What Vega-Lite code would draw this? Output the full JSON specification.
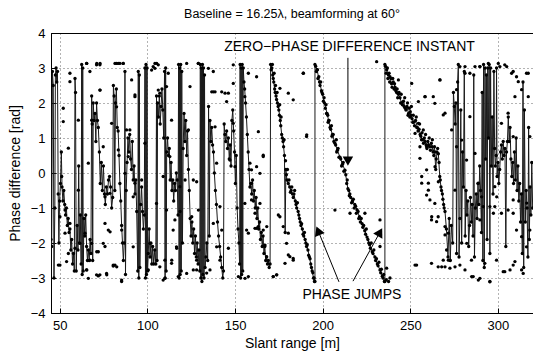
{
"$schema": "https://vega.github.io/schema/vega-lite/v6.json",
"width": 482, "height": 280,
"autosize": {"type": "none"},
"padding": {"left": 51, "top": 33, "right": 0, "bottom": 41},
"background": "white",
"title": {"text": "Baseline = 16.25λ, beamforming at 60°", "fontSize": 12.5, "fontWeight": "normal", "color": "#000", "offset": 7},
"config": {"font": "Liberation Sans", "view": {"stroke": "#000", "strokeWidth": 1},
 "axis": {"labelFontSize": 13, "titleFontSize": 14, "titleFontWeight": "normal", "labelColor": "#000", "titleColor": "#000", "domainColor": "#000", "tickColor": "#000", "grid": true, "gridDash": [1, 3], "gridColor": "#000", "gridOpacity": 0.6, "tickSize": -5, "labelPadding": 11, "labelOverlap": false}},
"datasets": {
"line": [
{"x":45.0,"y":-1.9},{"x":45.4,"y":-2.1},{"x":45.8,"y":2.9},{"x":46.3,"y":2.5},{"x":46.7,"y":-3.0},{"x":47.2,"y":-1.0},{"x":47.5,"y":2.8},{"x":47.9,"y":3.0},{"x":48.3,"y":2.6},{"x":48.7,"y":2.9},{"x":49.1,"y":-0.6},{"x":49.5,"y":-2.0},{"x":49.9,"y":-0.8},{"x":50.4,"y":-0.3},{"x":50.9,"y":0.6},{"x":51.3,"y":-0.4},{"x":51.8,"y":-0.8},{"x":52.3,"y":-0.5},{"x":52.8,"y":-0.9},{"x":53.3,"y":-1.2},{"x":53.8,"y":-1.0},{"x":54.3,"y":-1.5},{"x":54.8,"y":-1.3},{"x":55.3,"y":-1.7},{"x":55.8,"y":-1.6},{"x":56.3,"y":-2.2},{"x":56.8,"y":-1.9},{"x":57.3,"y":-2.6},{"x":57.8,"y":-2.3},{"x":58.3,"y":-2.8},{"x":58.7,"y":2.7},{"x":59.0,"y":2.3},{"x":59.4,"y":-2.8},{"x":59.9,"y":-1.5},{"x":60.4,"y":-2.2},{"x":60.8,"y":0.2},{"x":61.2,"y":-2.0},{"x":61.7,"y":-1.2},{"x":62.2,"y":-2.6},{"x":62.5,"y":3.1},{"x":62.8,"y":-2.9},{"x":63.1,"y":3.0},{"x":63.4,"y":-2.8},{"x":63.8,"y":-1.3},{"x":64.3,"y":-1.8},{"x":64.8,"y":-1.2},{"x":65.3,"y":-2.1},{"x":65.8,"y":-2.5},{"x":66.3,"y":-2.2},{"x":66.8,"y":-2.5},{"x":67.3,"y":-1.9},{"x":67.8,"y":-2.3},{"x":68.2,"y":2.2},{"x":68.5,"y":1.4},{"x":68.8,"y":-2.5},{"x":69.1,"y":2.0},{"x":69.6,"y":1.5},{"x":70.1,"y":1.7},{"x":70.6,"y":0.9},{"x":71.0,"y":2.0},{"x":71.5,"y":1.5},{"x":72.0,"y":1.3},{"x":72.6,"y":0.6},{"x":73.1,"y":-0.3},{"x":73.7,"y":0.3},{"x":74.3,"y":-0.5},{"x":74.9,"y":0.2},{"x":75.5,"y":-0.6},{"x":76.0,"y":-0.9},{"x":76.6,"y":-0.4},{"x":77.2,"y":-0.6},{"x":77.8,"y":-0.2},{"x":78.4,"y":-0.1},{"x":79.0,"y":-0.4},{"x":79.6,"y":-1.0},{"x":80.2,"y":-0.7},{"x":80.6,"y":2.5},{"x":81.0,"y":2.2},{"x":81.4,"y":-0.5},{"x":81.8,"y":2.0},{"x":82.3,"y":2.4},{"x":82.8,"y":1.3},{"x":83.3,"y":1.2},{"x":83.8,"y":0.5},{"x":84.3,"y":-0.3},{"x":84.8,"y":-0.8},{"x":85.3,"y":-1.5},{"x":85.8,"y":-2.0},{"x":86.3,"y":-2.5},{"x":86.8,"y":-2.0},{"x":87.2,"y":2.9},{"x":87.5,"y":-2.9},{"x":87.9,"y":-0.5},{"x":88.4,"y":0.3},{"x":88.9,"y":1.0},{"x":89.4,"y":0.6},{"x":89.9,"y":1.1},{"x":90.4,"y":0.4},{"x":90.9,"y":0.1},{"x":91.4,"y":0.9},{"x":91.9,"y":-0.2},{"x":92.4,"y":0.2},{"x":92.9,"y":-0.6},{"x":93.4,"y":-0.2},{"x":93.9,"y":-1.1},{"x":94.5,"y":-2.8},{"x":94.8,"y":2.9},{"x":95.1,"y":-3.0},{"x":95.4,"y":2.8},{"x":95.7,"y":-2.7},{"x":96.2,"y":-0.9},{"x":96.7,"y":-0.4},{"x":97.2,"y":-1.1},{"x":97.7,"y":-1.6},{"x":98.2,"y":-1.2},{"x":98.6,"y":3.0},{"x":98.9,"y":-3.0},{"x":99.2,"y":3.1},{"x":99.5,"y":-2.9},{"x":99.8,"y":3.0},{"x":100.1,"y":-2.8},{"x":100.5,"y":-2.3},{"x":101.0,"y":-1.6},{"x":101.5,"y":-2.4},{"x":102.0,"y":-2.0},{"x":102.5,"y":-2.6},{"x":103.0,"y":-2.1},{"x":103.6,"y":-2.6},{"x":104.2,"y":-2.2},{"x":104.8,"y":-2.6},{"x":105.2,"y":2.2},{"x":105.5,"y":-2.5},{"x":105.8,"y":2.0},{"x":106.3,"y":1.6},{"x":106.8,"y":2.2},{"x":107.3,"y":1.4},{"x":107.8,"y":1.9},{"x":108.3,"y":2.4},{"x":108.8,"y":1.8},{"x":109.3,"y":1.0},{"x":109.8,"y":2.9},{"x":110.1,"y":-3.0},{"x":110.4,"y":3.0},{"x":110.7,"y":-2.8},{"x":111.0,"y":0.6},{"x":111.5,"y":1.0},{"x":112.0,"y":0.5},{"x":112.5,"y":0.7},{"x":113.0,"y":-0.2},{"x":113.5,"y":0.3},{"x":114.0,"y":-0.5},{"x":114.5,"y":-0.2},{"x":115.0,"y":-0.8},{"x":115.5,"y":-0.3},{"x":116.0,"y":-0.5},{"x":116.5,"y":0.0},{"x":117.0,"y":-0.2},{"x":117.5,"y":-1.2},{"x":117.8,"y":3.1},{"x":118.1,"y":-3.0},{"x":118.4,"y":3.0},{"x":118.7,"y":-2.9},{"x":119.0,"y":3.1},{"x":119.3,"y":-2.8},{"x":119.6,"y":2.9},{"x":120.0,"y":-2.0},{"x":120.4,"y":0.7},{"x":120.9,"y":1.7},{"x":121.4,"y":0.9},{"x":121.9,"y":1.5},{"x":122.4,"y":0.5},{"x":122.9,"y":1.2},{"x":123.4,"y":0.1},{"x":123.9,"y":-0.5},{"x":124.4,"y":-1.3},{"x":124.9,"y":-1.8},{"x":125.4,"y":-1.4},{"x":125.9,"y":-2.0},{"x":126.4,"y":-1.6},{"x":126.9,"y":-2.3},{"x":127.4,"y":-1.8},{"x":127.9,"y":-2.4},{"x":128.4,"y":-2.0},{"x":128.9,"y":-2.6},{"x":129.4,"y":-2.2},{"x":129.9,"y":-2.8},{"x":130.2,"y":3.1},{"x":130.5,"y":-3.0},{"x":130.8,"y":3.0},{"x":131.1,"y":-3.1},{"x":131.4,"y":3.1},{"x":131.7,"y":-2.9},{"x":132.0,"y":3.0},{"x":132.3,"y":-3.0},{"x":132.6,"y":2.8},{"x":132.9,"y":-2.7},{"x":133.4,"y":-2.4},{"x":133.9,"y":-2.0},{"x":134.4,"y":-2.5},{"x":134.9,"y":1.9},{"x":135.3,"y":-1.8},{"x":135.7,"y":1.5},{"x":136.2,"y":0.9},{"x":136.7,"y":1.3},{"x":137.2,"y":0.8},{"x":137.7,"y":0.6},{"x":138.2,"y":0.0},{"x":138.8,"y":-0.5},{"x":139.4,"y":-0.9},{"x":140.0,"y":-1.4},{"x":140.6,"y":-1.8},{"x":141.2,"y":-2.1},{"x":141.8,"y":-2.4},{"x":142.4,"y":-2.7},{"x":143.0,"y":-3.0},{"x":143.4,"y":-2.8},{"x":143.8,"y":1.4},{"x":144.2,"y":1.1},{"x":144.7,"y":0.9},{"x":145.2,"y":1.2},{"x":145.7,"y":0.7},{"x":146.2,"y":1.0},{"x":146.7,"y":0.4},{"x":147.2,"y":0.8},{"x":147.7,"y":0.2},{"x":148.2,"y":1.5},{"x":148.7,"y":1.8},{"x":149.2,"y":1.2},{"x":149.7,"y":0.6},{"x":150.2,"y":-0.3},{"x":150.7,"y":0.5},{"x":151.2,"y":-1.0},{"x":151.7,"y":-1.6},{"x":152.2,"y":-2.0},{"x":152.6,"y":-2.6},{"x":152.9,"y":3.1},{"x":153.2,"y":-3.0},{"x":153.5,"y":3.0},{"x":153.8,"y":-2.9},{"x":154.1,"y":3.1},{"x":154.4,"y":-2.8},{"x":154.7,"y":3.0},{"x":155.1,"y":2.6},{"x":155.5,"y":2.4},{"x":156.0,"y":2.0},{"x":156.5,"y":1.6},{"x":157.0,"y":1.1},{"x":157.5,"y":0.6},{"x":158.0,"y":0.1},{"x":158.5,"y":-0.4},{"x":159.0,"y":-0.3},{"x":159.5,"y":-0.6},{"x":160.0,"y":-0.2},{"x":160.5,"y":-0.8},{"x":161.0,"y":-0.5},{"x":161.5,"y":-1.0},{"x":162.0,"y":-0.7},{"x":162.5,"y":-1.3},{"x":163.0,"y":-1.0},{"x":163.5,"y":-1.6},{"x":164.0,"y":-1.4},{"x":164.5,"y":-1.9},{"x":165.0,"y":-1.7},{"x":165.5,"y":-2.1},{"x":166.0,"y":-1.8},{"x":166.5,"y":-2.3},{"x":167.0,"y":-2.1},{"x":167.5,"y":-2.5},{"x":168.0,"y":-2.4},{"x":168.5,"y":-2.6},{"x":169.0,"y":-2.5},{"x":169.5,"y":-2.7},{"x":170.0,"y":-2.6},
{"x":170.3,"y":3.1},{"x":171.0,"y":3.0},{"x":171.8,"y":2.7},{"x":172.6,"y":2.4},{"x":173.4,"y":2.2},{"x":174.2,"y":2.0},{"x":175.0,"y":1.8},{"x":175.8,"y":1.5},{"x":176.6,"y":1.1},{"x":177.4,"y":0.9},{"x":178.2,"y":0.5},{"x":178.6,"y":-1.7},{"x":179.0,"y":0.1},{"x":179.6,"y":-0.2},{"x":180.4,"y":-0.3},{"x":181.2,"y":-0.4},{"x":182.0,"y":-0.5},{"x":182.8,"y":-0.6},{"x":183.6,"y":-0.6},{"x":184.4,"y":-0.8},{"x":185.2,"y":-1.0},{"x":186.0,"y":-1.1},{"x":186.8,"y":-1.3},{"x":187.6,"y":-1.5},{"x":188.4,"y":-1.6},{"x":189.2,"y":-1.8},{"x":190.0,"y":-1.9},{"x":190.8,"y":-2.1},{"x":191.6,"y":-2.2},{"x":192.4,"y":-2.4},{"x":193.2,"y":-2.6},{"x":194.0,"y":-2.8},{"x":194.8,"y":-3.0},{"x":195.6,"y":-3.1},
{"x":195.6,"y":3.1},{"x":196.8,"y":2.95},{"x":198.2,"y":2.6},{"x":199.6,"y":2.3},{"x":201.0,"y":2.0},{"x":202.5,"y":1.7},{"x":203.4,"y":1.5},{"x":204.2,"y":1.3},{"x":205.6,"y":1.1},{"x":207.0,"y":0.85},{"x":208.4,"y":0.65},{"x":209.9,"y":0.45},{"x":211.3,"y":0.25},{"x":212.7,"y":0.08},{"x":214.4,"y":-0.45},{"x":215.5,"y":-0.6},{"x":217.0,"y":-0.8},{"x":218.3,"y":-0.9},{"x":219.6,"y":-1.05},{"x":221.0,"y":-1.25},{"x":222.5,"y":-1.45},{"x":224.0,"y":-1.65},{"x":225.3,"y":-1.83},{"x":226.8,"y":-2.05},{"x":228.3,"y":-2.25},{"x":229.8,"y":-2.4},{"x":231.2,"y":-2.6},{"x":232.7,"y":-2.77},{"x":234.0,"y":-2.95},{"x":235.5,"y":-3.1},
{"x":235.5,"y":3.1},{"x":236.5,"y":2.95},{"x":237.5,"y":2.8},{"x":238.4,"y":2.75},{"x":239.3,"y":2.55},{"x":240.3,"y":2.6},{"x":241.3,"y":2.45},{"x":242.2,"y":2.3},{"x":243.2,"y":2.25},{"x":244.1,"y":2.15},{"x":245.1,"y":2.0},{"x":246.1,"y":2.05},{"x":247.1,"y":1.85},{"x":248.1,"y":1.9},{"x":249.0,"y":1.7},{"x":250.0,"y":1.75},{"x":251.0,"y":1.55},{"x":252.0,"y":1.45},{"x":253.0,"y":1.5},{"x":254.0,"y":1.3},{"x":255.0,"y":1.25},{"x":256.0,"y":1.05},{"x":257.0,"y":0.95},{"x":258.0,"y":1.0},{"x":259.0,"y":0.8},{"x":260.0,"y":0.9},{"x":261.0,"y":0.75},{"x":262.0,"y":0.85},{"x":263.0,"y":0.6},{"x":263.8,"y":0.75},{"x":264.5,"y":0.1},{"x":265.2,"y":0.6},{"x":266.0,"y":0.55},{"x":266.8,"y":-0.1},{"x":267.5,"y":-0.4},{"x":268.3,"y":-0.6},{"x":269.0,"y":-0.9},{"x":269.8,"y":-1.1},{"x":270.6,"y":-1.6},{"x":271.5,"y":-2.4},{"x":272.2,"y":-1.3},{"x":272.8,"y":-2.5},{"x":273.4,"y":-1.5},
{"x":274.2,"y":-2.0},{"x":274.6,"y":2.3},{"x":275.1,"y":1.9},{"x":275.6,"y":1.4},{"x":276.0,"y":2.0},{"x":276.4,"y":-2.3},{"x":277.0,"y":2.6},{"x":277.4,"y":3.1},{"x":277.8,"y":-2.4},{"x":278.3,"y":-1.3},{"x":278.8,"y":1.8},{"x":279.3,"y":-2.0},{"x":279.8,"y":0.6},{"x":280.3,"y":-0.4},{"x":280.8,"y":2.9},{"x":281.3,"y":-1.8},{"x":281.8,"y":-0.5},{"x":282.3,"y":-1.2},{"x":282.8,"y":-0.8},{"x":283.3,"y":-2.1},{"x":283.8,"y":-1.5},{"x":284.3,"y":-0.7},{"x":284.8,"y":-1.4},{"x":285.3,"y":-0.9},{"x":285.8,"y":-1.8},{"x":286.2,"y":2.8},{"x":286.6,"y":-2.4},{"x":287.1,"y":-1.0},{"x":287.6,"y":-0.6},{"x":288.1,"y":-1.3},{"x":288.6,"y":-0.3},{"x":289.1,"y":-0.9},{"x":289.6,"y":0.2},{"x":290.1,"y":-0.5},{"x":290.6,"y":-1.7},{"x":291.0,"y":2.3},{"x":291.4,"y":-2.5},{"x":291.8,"y":3.1},{"x":292.2,"y":-2.7},{"x":292.6,"y":3.0},{"x":293.0,"y":0.4},{"x":293.4,"y":2.8},{"x":293.8,"y":-1.9},{"x":294.2,"y":3.0},{"x":294.6,"y":1.0},{"x":295.0,"y":3.1},{"x":295.4,"y":-2.3},{"x":295.8,"y":3.0},{"x":296.2,"y":0.2},{"x":296.7,"y":1.6},{"x":297.2,"y":-0.6},{"x":297.7,"y":2.9},{"x":298.1,"y":0.7},{"x":298.5,"y":0.2},{"x":299.0,"y":0.5},{"x":299.2,"y":3.0},{"x":299.5,"y":-0.1},{"x":300.0,"y":0.3},{"x":300.5,"y":-0.3},{"x":301.0,"y":0.1},{"x":301.5,"y":0.6},{"x":302.0,"y":0.8},{"x":302.5,"y":0.4},{"x":303.0,"y":0.9},{"x":303.5,"y":0.5},{"x":304.0,"y":0.7},{"x":304.5,"y":-2.1},{"x":304.9,"y":0.6},{"x":305.4,"y":0.9},{"x":305.9,"y":1.6},{"x":306.4,"y":0.9},{"x":306.9,"y":1.3},{"x":307.4,"y":0.4},{"x":307.9,"y":-0.1},{"x":308.4,"y":0.3},{"x":308.9,"y":-0.3},{"x":309.4,"y":0.6},{"x":309.9,"y":-0.2},{"x":310.4,"y":1.0},{"x":310.9,"y":-0.5},{"x":311.4,"y":0.2},{"x":311.9,"y":-0.8},{"x":312.4,"y":-0.3},{"x":312.9,"y":-1.4},{"x":313.4,"y":-0.6},{"x":313.9,"y":-2.3},{"x":314.3,"y":2.6},{"x":314.7,"y":-2.7},{"x":315.1,"y":1.8},{"x":315.6,"y":-1.4},{"x":316.1,"y":-0.5},{"x":316.6,"y":-1.0},{"x":317.1,"y":-2.4},{"x":317.5,"y":1.3},{"x":317.9,"y":-1.9},{"x":318.3,"y":-0.4},{"x":318.8,"y":-1.2},{"x":319.3,"y":0.3},{"x":319.8,"y":-1.0}
],
"scatter": [
{"x":52.0,"y":1.85},{"x":52.0,"y":1.47},{"x":55.8,"y":2.85},{"x":49.2,"y":-2.63},{"x":53.9,"y":-2.53},{"x":65.3,"y":3.13},{"x":67.2,"y":2.9},{"x":71.0,"y":3.09},{"x":72.9,"y":3.09},{"x":72.9,"y":2.37},{"x":68.2,"y":1.51},{"x":74.8,"y":0.75},{"x":75.8,"y":-1.44},{"x":77.7,"y":-1.63},{"x":74.8,"y":-2.01},{"x":72.0,"y":-2.25},{"x":67.2,"y":-2.49},{"x":65.3,"y":-2.77},{"x":71.0,"y":-2.91},{"x":72.9,"y":-2.91},{"x":76.7,"y":-2.87},{"x":80.5,"y":-2.63},{"x":81.5,"y":-2.63},{"x":82.4,"y":3.13},{"x":84.3,"y":3.13},{"x":86.2,"y":3.13},{"x":85.3,"y":-3.06},{"x":91.0,"y":2.66},{"x":92.9,"y":2.18},{"x":88.1,"y":1.23},{"x":90.0,"y":1.23},{"x":91.9,"y":-0.68},{"x":91.9,"y":-2.11},{"x":96.7,"y":-0.2},{"x":100.5,"y":-2.77},{"x":102.4,"y":2.94},{"x":103.3,"y":3.04},{"x":104.3,"y":3.13},{"x":107.1,"y":2.28},{"x":107.1,"y":-2.68},{"x":109.0,"y":-3.06},{"x":110.0,"y":-2.49},{"x":113.8,"y":-2.58},{"x":113.8,"y":1.51},{"x":115.7,"y":-1.34},{"x":114.7,"y":-1.63},{"x":116.6,"y":-2.11},{"x":117.6,"y":-2.96},{"x":110.9,"y":2.47},{"x":106.2,"y":3.09},{"x":111.9,"y":2.85},{"x":50.1,"y":-1.25},{"x":51.1,"y":-0.1},{"x":53.0,"y":-1.06},{"x":54.9,"y":-2.3},{"x":55.8,"y":-1.44},{"x":60.6,"y":1.51},{"x":60.6,"y":-0.49},{"x":61.5,"y":-2.01},{"x":64.4,"y":-1.72},{"x":66.3,"y":0.28},{"x":68.2,"y":-2.01},{"x":75.8,"y":-0.68},{"x":78.6,"y":-0.58},{"x":79.6,"y":1.42},{"x":82.4,"y":1.89},{"x":83.4,"y":0.66},{"x":85.3,"y":-1.63},{"x":87.2,"y":-0.01},{"x":89.1,"y":0.47},{"x":92.9,"y":-0.29},{"x":98.6,"y":0.85},{"x":101.4,"y":-2.01},{"x":105.2,"y":-0.87},{"x":109.0,"y":-0.1},{"x":110.9,"y":-1.06},{"x":112.8,"y":0.47},{"x":118.5,"y":-0.39},
{"x":124.3,"y":2.47},{"x":123.4,"y":1.23},{"x":121.5,"y":-0.2},{"x":126.2,"y":-0.2},{"x":128.1,"y":-0.25},{"x":125.3,"y":-1.25},{"x":129.1,"y":-1.06},{"x":126.2,"y":-2.77},{"x":122.4,"y":-2.87},{"x":128.1,"y":-2.49},{"x":129.1,"y":3.13},{"x":134.8,"y":2.99},{"x":136.7,"y":2.32},{"x":138.6,"y":2.32},{"x":144.3,"y":2.28},{"x":146.2,"y":2.28},{"x":145.2,"y":2.04},{"x":138.6,"y":1.32},{"x":139.5,"y":0.28},{"x":141.4,"y":-0.96},{"x":142.4,"y":-1.63},{"x":137.6,"y":-1.44},{"x":139.5,"y":-2.11},{"x":141.4,"y":-2.49},{"x":149.0,"y":2.56},{"x":150.0,"y":0.18},{"x":147.1,"y":0.37},{"x":149.0,"y":1.42},{"x":158.5,"y":0.28},{"x":159.4,"y":0.09},{"x":162.3,"y":0.18},{"x":159.4,"y":-0.29},{"x":161.4,"y":-1.15},{"x":164.2,"y":-0.87},{"x":161.4,"y":-1.58},{"x":163.2,"y":-1.53},{"x":166.1,"y":-1.63},{"x":167.1,"y":-2.06},{"x":168.0,"y":-2.39},{"x":171.8,"y":-2.96},{"x":173.7,"y":-2.91},{"x":166.1,"y":0.47},{"x":157.6,"y":-2.96},{"x":156.6,"y":-1.63},{"x":155.6,"y":-0.87},{"x":157.6,"y":2.85},{"x":155.6,"y":2.18},{"x":181.3,"y":-2.39},{"x":183.2,"y":-2.49},{"x":179.4,"y":-2.01},{"x":190.8,"y":1.04},{"x":188.9,"y":2.85},{"x":164.2,"y":-0.01},{"x":159.4,"y":-0.77},{"x":162.3,"y":2.75},
{"x":243.2,"y":2.66},{"x":250.8,"y":2.56},{"x":254.6,"y":2.04},{"x":258.4,"y":2.18},{"x":264.0,"y":1.99},{"x":266.9,"y":2.66},{"x":269.8,"y":1.71},{"x":254.6,"y":1.42},{"x":252.7,"y":1.13},{"x":257.4,"y":1.23},{"x":255.5,"y":0.75},{"x":259.3,"y":0.09},{"x":256.5,"y":-0.29},{"x":260.3,"y":-0.29},{"x":260.3,"y":-0.49},{"x":261.2,"y":-0.77},{"x":264.0,"y":-0.87},{"x":262.1,"y":-1.34},{"x":265.9,"y":-1.25},{"x":269.8,"y":-1.53},{"x":271.7,"y":-1.72},{"x":270.7,"y":-2.2},{"x":271.7,"y":-2.49},{"x":253.6,"y":-2.63},{"x":262.1,"y":-2.58},{"x":265.9,"y":-2.68},{"x":269.8,"y":-2.68},{"x":272.6,"y":-2.49},{"x":275.5,"y":-2.68},{"x":278.3,"y":-2.63},{"x":281.2,"y":-2.77},{"x":285.9,"y":-2.96},{"x":289.7,"y":-3.01},{"x":295.4,"y":-3.11},{"x":284.9,"y":-2.49},{"x":292.5,"y":-2.58},{"x":299.2,"y":-2.49},{"x":303.9,"y":-2.82},{"x":308.7,"y":-2.63},{"x":314.4,"y":-2.87},{"x":309.7,"y":-2.53},{"x":281.2,"y":2.85},{"x":286.9,"y":3.04},{"x":289.7,"y":3.04},{"x":301.1,"y":3.04},{"x":303.9,"y":3.09},{"x":307.8,"y":2.85},{"x":310.6,"y":2.75},{"x":316.3,"y":2.85},{"x":284.0,"y":1.61},{"x":286.9,"y":0.56},{"x":282.1,"y":0.37},{"x":288.8,"y":-0.29},{"x":290.7,"y":-0.68},{"x":289.7,"y":-1.34},{"x":291.6,"y":-0.96},{"x":295.4,"y":-0.96},{"x":298.2,"y":-0.96},{"x":298.2,"y":-0.39},{"x":302.0,"y":-1.15},{"x":305.8,"y":-1.06},{"x":308.7,"y":-1.15},{"x":310.6,"y":-1.63},{"x":313.5,"y":-1.82},{"x":316.3,"y":-2.11},{"x":318.2,"y":-1.63},{"x":302.0,"y":1.42},{"x":305.8,"y":1.71},{"x":309.7,"y":2.18},{"x":317.3,"y":2.18},{"x":308.7,"y":1.04},{"x":318.2,"y":1.04},{"x":275.5,"y":-0.49},{"x":276.4,"y":0.75},{"x":279.3,"y":0.94},
{"x":189.0,"y":2.85},{"x":230.8,"y":3.18},{"x":183.2,"y":2.09},{"x":180.4,"y":2.28},{"x":190.9,"y":1.09},{"x":266.9,"y":2.66},{"x":258.4,"y":2.18},{"x":263.1,"y":2.18},{"x":268.8,"y":1.66},{"x":273.6,"y":1.23},{"x":276.4,"y":2.38},{"x":278.3,"y":3.04},{"x":281.2,"y":3.04},{"x":284.0,"y":2.85},{"x":289.7,"y":3.04},{"x":294.5,"y":3.13},{"x":300.2,"y":3.13},{"x":305.0,"y":3.04},{"x":308.7,"y":2.9},{"x":311.6,"y":2.61},{"x":313.5,"y":2.38},{"x":317.3,"y":2.85},{"x":259.3,"y":0.75},{"x":255.5,"y":0.42},{"x":264.1,"y":0.18},
{"x":207.0,"y":-1.06},{"x":215.6,"y":-1.15},{"x":224.1,"y":-1.15},{"x":232.7,"y":-1.34},{"x":232.7,"y":-2.1},{"x":236.5,"y":-2.72},{"x":238.4,"y":-3.0},{"x":175.6,"y":-1.25},{"x":177.5,"y":-1.53},{"x":178.5,"y":-2.58},{"x":183.2,"y":-2.44},{"x":180.4,"y":-2.34},{"x":252.7,"y":-2.63},{"x":256.5,"y":-0.1},{"x":259.3,"y":-0.63},{"x":262.2,"y":-1.25},{"x":265.0,"y":-1.39},{"x":266.0,"y":-0.25},{"x":269.8,"y":-1.77},{"x":268.8,"y":-2.49},{"x":267.9,"y":-2.68},{"x":272.6,"y":-2.72},{"x":285.0,"y":-2.96},{"x":288.8,"y":-3.06},{"x":295.4,"y":-3.1},{"x":303.0,"y":-2.82},{"x":306.9,"y":-2.77},{"x":313.5,"y":-2.77},{"x":282.2,"y":-2.01},{"x":297.4,"y":-1.15},{"x":299.3,"y":-0.68},{"x":308.7,"y":-0.77},{"x":316.4,"y":-0.86},
{"x":53.0,"y":-1.72},{"x":50.1,"y":-2.63},{"x":58.7,"y":-2.15},{"x":65.4,"y":-2.77},{"x":66.3,"y":-3.01},{"x":72.0,"y":-2.94},{"x":76.8,"y":-2.91},{"x":80.5,"y":-2.66},{"x":85.3,"y":-3.1},{"x":71.1,"y":-2.25},{"x":75.8,"y":-2.1},{"x":78.7,"y":-1.68},{"x":82.5,"y":-2.68},{"x":110.0,"y":-3.01},{"x":113.9,"y":-2.49},{"x":116.7,"y":-2.15},{"x":118.6,"y":-1.1},{"x":128.1,"y":-2.77},{"x":133.8,"y":-2.86},{"x":135.7,"y":-2.77},{"x":146.2,"y":-2.15},{"x":151.9,"y":-2.96},{"x":155.7,"y":-3.01},{"x":157.6,"y":-1.72},{"x":162.4,"y":-1.58},{"x":168.1,"y":-1.53},{"x":171.8,"y":-2.96},{"x":173.8,"y":-2.91},{"x":174.7,"y":-1.2},{"x":180.4,"y":-1.72},
{"x":55.8,"y":2.61},{"x":54.9,"y":0.71},{"x":65.4,"y":3.13},{"x":71.1,"y":3.13},{"x":73.0,"y":3.13},{"x":73.0,"y":2.37},{"x":81.5,"y":3.13},{"x":83.4,"y":3.13},{"x":86.2,"y":3.13},{"x":92.9,"y":2.23},{"x":105.3,"y":3.13},{"x":104.3,"y":2.99},{"x":106.2,"y":2.37},{"x":122.4,"y":3.13},{"x":129.0,"y":3.13},{"x":137.6,"y":2.9},{"x":137.6,"y":2.32},{"x":142.4,"y":2.32},{"x":149.0,"y":3.09},{"x":163.3,"y":1.18},{"x":166.1,"y":0.51},{"x":175.6,"y":2.42},
{"x":196.0,"y":3.05},{"x":196.4,"y":2.9},{"x":197.0,"y":2.95},{"x":197.3,"y":2.7},{"x":197.8,"y":2.75},{"x":198.5,"y":2.5},{"x":198.9,"y":2.6},{"x":199.3,"y":2.35},{"x":200.0,"y":2.25},{"x":200.4,"y":2.05},{"x":200.8,"y":2.15},{"x":201.5,"y":1.85},{"x":201.9,"y":1.95},{"x":202.2,"y":1.7},{"x":202.9,"y":1.65},{"x":203.1,"y":1.45},{"x":203.7,"y":1.5},{"x":204.6,"y":1.25},{"x":205.0,"y":1.35},{"x":205.3,"y":1.05},{"x":206.0,"y":1.1},{"x":206.4,"y":0.9},{"x":207.4,"y":0.8},{"x":207.8,"y":0.95},{"x":208.0,"y":0.6},{"x":208.8,"y":0.7},{"x":209.3,"y":0.45},{"x":210.3,"y":0.4},{"x":210.8,"y":0.2},{"x":211.7,"y":0.3},{"x":212.1,"y":0.05},{"x":213.2,"y":-0.05},{"x":213.7,"y":-0.3},{"x":214.0,"y":-0.2},{"x":214.9,"y":-0.5},{"x":215.2,"y":-0.65},{"x":216.0,"y":-0.7},{"x":216.5,"y":-0.85},{"x":217.5,"y":-0.75},{"x":218.0,"y":-1.0},{"x":218.8,"y":-0.95},{"x":219.2,"y":-1.15},{"x":220.2,"y":-1.1},{"x":220.6,"y":-1.3},{"x":221.5,"y":-1.4},{"x":222.0,"y":-1.3},{"x":222.9,"y":-1.55},{"x":223.4,"y":-1.5},{"x":224.5,"y":-1.75},{"x":224.9,"y":-1.6},{"x":225.8,"y":-1.9},{"x":226.3,"y":-2.0},{"x":227.2,"y":-2.15},{"x":227.7,"y":-2.0},{"x":228.7,"y":-2.3},{"x":229.2,"y":-2.2},{"x":230.2,"y":-2.5},{"x":230.7,"y":-2.45},{"x":231.6,"y":-2.65},{"x":232.1,"y":-2.55},{"x":233.1,"y":-2.85},{"x":233.5,"y":-2.75},{"x":234.4,"y":-3.0},{"x":234.8,"y":-2.9},{"x":235.2,"y":-3.1},{"x":236.3,"y":-3.05},{"x":237.6,"y":-3.1},
{"x":235.8,"y":3.05},{"x":236.2,"y":2.85},{"x":236.9,"y":3.0},{"x":237.2,"y":2.7},{"x":237.9,"y":2.85},{"x":238.2,"y":2.6},{"x":238.9,"y":2.7},{"x":239.6,"y":2.45},{"x":240.0,"y":2.7},{"x":240.7,"y":2.4},{"x":241.0,"y":2.55},{"x":241.7,"y":2.35},{"x":242.5,"y":2.4},{"x":242.8,"y":2.15},{"x":243.6,"y":2.3},{"x":244.5,"y":2.0},{"x":244.8,"y":2.25},{"x":245.5,"y":1.95},{"x":246.5,"y":1.9},{"x":246.8,"y":2.15},{"x":247.5,"y":1.8},{"x":248.4,"y":2.0},{"x":248.7,"y":1.65},{"x":249.4,"y":1.85},{"x":249.7,"y":1.6},{"x":250.4,"y":1.65},{"x":250.6,"y":1.9},{"x":251.4,"y":1.45},{"x":251.7,"y":1.65},{"x":252.4,"y":1.35},{"x":253.4,"y":1.6},{"x":253.7,"y":1.3},{"x":254.4,"y":1.2},{"x":255.3,"y":1.4},{"x":255.6,"y":1.1},{"x":256.4,"y":0.95},{"x":256.7,"y":1.15},{"x":257.5,"y":0.85},{"x":258.4,"y":0.9},{"x":258.7,"y":1.1},{"x":259.5,"y":0.7},{"x":260.4,"y":0.8},{"x":260.8,"y":1.0},{"x":261.5,"y":0.65},{"x":262.4,"y":0.75},{"x":262.6,"y":0.95},{"x":263.4,"y":0.5},{"x":264.0,"y":0.6},{"x":264.8,"y":0.4},{"x":265.6,"y":0.7},{"x":266.4,"y":0.3},{"x":267.1,"y":-0.2},{"x":267.8,"y":-0.5},{"x":268.6,"y":-0.75},{"x":269.3,"y":-1.0},
{"x":170.6,"y":2.95},{"x":171.3,"y":3.1},{"x":171.5,"y":2.8},{"x":172.1,"y":2.6},{"x":172.3,"y":2.85},{"x":172.9,"y":2.3},{"x":173.1,"y":2.5},{"x":173.7,"y":2.1},{"x":174.0,"y":2.3},{"x":174.6,"y":1.9},{"x":175.3,"y":1.65},{"x":175.5,"y":1.95},{"x":176.1,"y":1.35},{"x":176.3,"y":1.6},{"x":177.0,"y":1.0},{"x":177.7,"y":0.75},{"x":178.0,"y":0.95},{"x":178.8,"y":0.35},{"x":179.3,"y":-0.05},{"x":179.9,"y":0.1},{"x":180.8,"y":-0.2},{"x":181.6,"y":-0.55},{"x":182.4,"y":-0.4},{"x":183.2,"y":-0.7},{"x":184.0,"y":-0.5},{"x":184.8,"y":-0.9},{"x":185.6,"y":-0.85},{"x":186.4,"y":-1.2},{"x":187.2,"y":-1.4},{"x":188.0,"y":-1.45},{"x":188.8,"y":-1.75},{"x":189.6,"y":-1.7},{"x":190.4,"y":-2.0},{"x":191.2,"y":-2.05},{"x":192.0,"y":-2.35},{"x":192.8,"y":-2.45},{"x":193.6,"y":-2.7},{"x":194.4,"y":-2.85},{"x":195.1,"y":-3.0},{"x":195.3,"y":-3.1}
],
"arrows": [
{"x":214.4,"y":3.29,"x2":214.4,"y2":0.3},
{"x":209.3,"y":-3.11,"x2":197.4,"y2":-1.65},
{"x":217.3,"y":-3.09,"x2":232.7,"y2":-1.69}
],
"heads": [
{"x":214.4,"y":0.34,"a":180},
{"x":197.4,"y":-1.65,"a":-22},
{"x":232.7,"y":-1.69,"a":29}
],
"labels": [
{"x":215.3,"y":3.6,"t":"ZERO−PHASE DIFFERENCE INSTANT"},
{"x":216.7,"y":-3.49,"t":"PHASE JUMPS"}
]
},
"layer": [
{"data": {"name": "line"}, "mark": {"type": "line", "color": "#1a1a1a", "strokeWidth": 1, "clip": true},
 "encoding": {
  "x": {"field": "x", "type": "quantitative", "scale": {"domain": [45, 320], "nice": false, "zero": false}, "axis": {"values": [50, 100, 150, 200, 250, 300], "title": "Slant range [m]", "titlePadding": 4, "labelOverlap": false}},
  "y": {"field": "y", "type": "quantitative", "scale": {"domain": [-4, 4], "nice": false, "zero": false}, "axis": {"values": [-4, -3, -2, -1, 0, 1, 2, 3, 4], "tickCount": 9, "title": "Phase difference [rad]", "titlePadding": 8, "labelOverlap": false, "labelBound": false}},
  "order": {"value": null}}},
{"data": {"name": "line"}, "mark": {"type": "circle", "color": "#000", "size": 11, "opacity": 1, "clip": true},
 "encoding": {"x": {"field": "x", "type": "quantitative"}, "y": {"field": "y", "type": "quantitative"}}},
{"data": {"name": "scatter"}, "mark": {"type": "circle", "color": "#000", "size": 11, "opacity": 1, "clip": true},
 "encoding": {"x": {"field": "x", "type": "quantitative"}, "y": {"field": "y", "type": "quantitative"}}},
{"data": {"name": "arrows"}, "mark": {"type": "rule", "color": "#000", "strokeWidth": 1},
 "encoding": {"x": {"field": "x", "type": "quantitative"}, "y": {"field": "y", "type": "quantitative"}, "x2": {"field": "x2"}, "y2": {"field": "y2"}}},
{"data": {"name": "heads"}, "mark": {"type": "point", "shape": "triangle-up", "filled": true, "color": "#000", "size": 110, "opacity": 1},
 "encoding": {"x": {"field": "x", "type": "quantitative"}, "y": {"field": "y", "type": "quantitative"}, "angle": {"field": "a", "type": "quantitative", "scale": null}}},
{"data": {"name": "labels"}, "mark": {"type": "text", "fontSize": 14, "color": "#000", "align": "center", "baseline": "middle"},
 "encoding": {"x": {"field": "x", "type": "quantitative"}, "y": {"field": "y", "type": "quantitative"}, "text": {"field": "t"}}}
]
}
